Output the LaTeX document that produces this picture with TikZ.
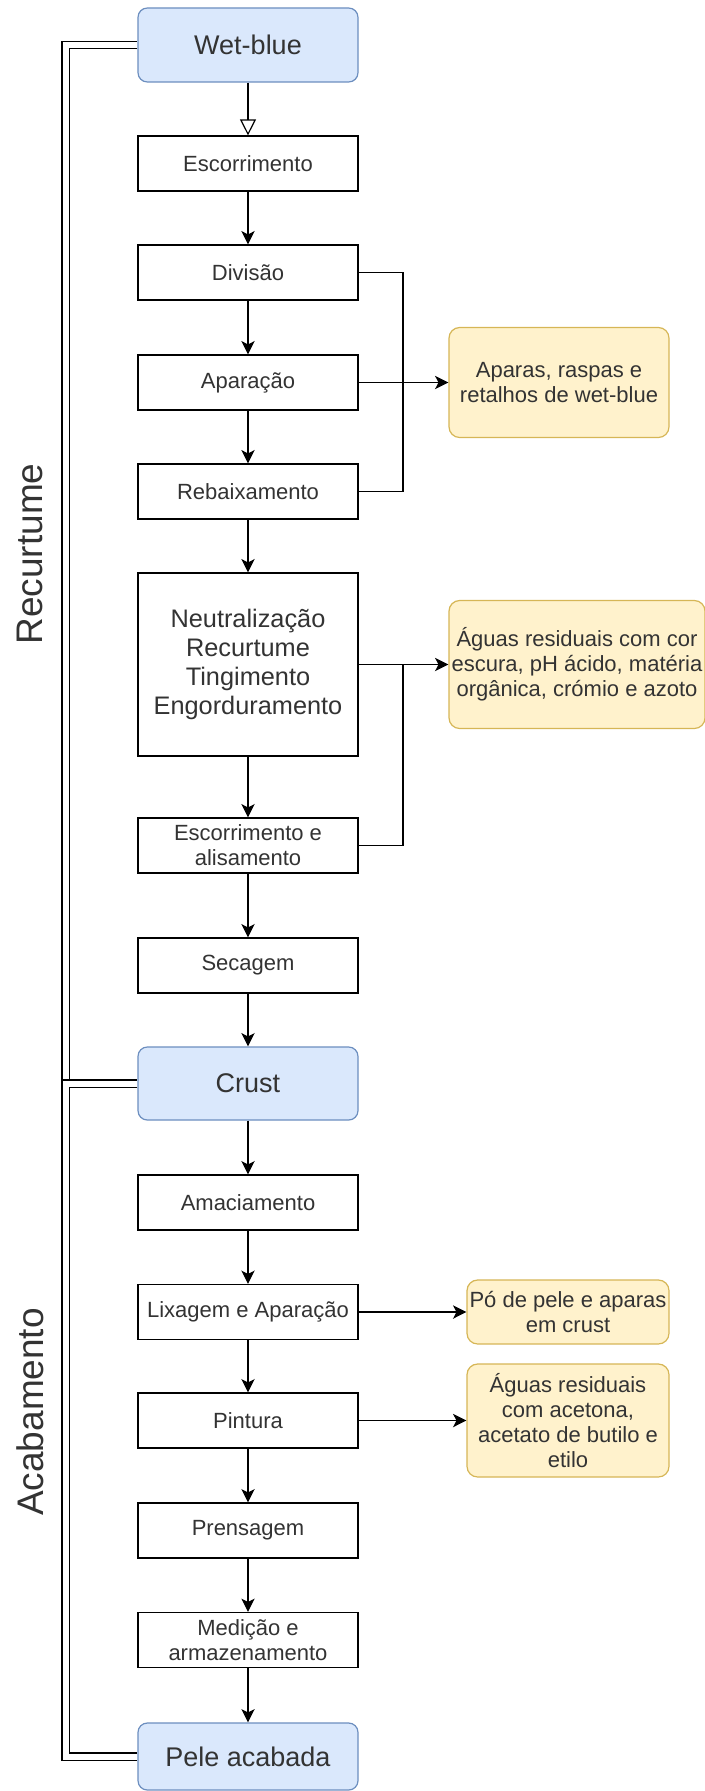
\documentclass[tikz,border=0pt]{standalone}
\usepackage{fontspec}
\setmainfont{Liberation Sans}
\usetikzlibrary{arrows.meta}
\definecolor{azulfundo}{HTML}{DAE8FC}
\definecolor{azulborda}{HTML}{6C8EBF}
\definecolor{amarfundo}{HTML}{FFF2CC}
\definecolor{amarborda}{HTML}{D6B656}

\begin{document}
\begin{tikzpicture}[x=0.75pt, y=-0.75pt,
	every node/.style={text=black!80, align=center, inner sep=0pt, font=\fontsize{16.5}{18.75}\selectfont},
	etapa/.style={draw=black, line width=0.9pt, fill=white, minimum width=165pt, minimum height=41.25pt},
	estado/.style={draw=azulborda, line width=0.9pt, fill=azulfundo, rounded corners=7pt, minimum width=165pt, font=\fontsize{20.25}{22}\selectfont},
	residuo/.style={draw=amarborda, line width=0.9pt, fill=amarfundo, rounded corners=8pt},
	fase/.style={rotate=90, font=\fontsize{27.75}{30}\selectfont},
	seta/.style={-{Stealth[length=10pt, width=10pt, inset=2.5pt]}, line width=0.9pt},
	ligacao/.style={double, double distance=4.5pt, line width=0.8pt}]
	\useasboundingbox (0,0) rectangle (705,1791);
	% fases
	\node[fase] (lblrec) at (30,554) {Recurtume};
	\node[fase] (lblacab) at (30,1412) {Acabamento};
	% estados da pele
	\node[estado, minimum height=55.5pt] (wet) at (248,45) {Wet-blue};
	\node[estado, minimum height=54.75pt] (crust) at (248,1083.5) {Crust};
	\node[estado, minimum height=50.25pt] (pele) at (248,1756.5) {Pele acabada};
	% etapas
	\node[etapa] (esc) at (248,163.5) {Escorrimento};
	\node[etapa] (div) at (248,272.5) {Divisão};
	\node[etapa] (apa) at (248,382.5) {Aparação};
	\node[etapa] (reb) at (248,491.5) {Rebaixamento};
	\node[etapa, minimum height=137.25pt, font=\fontsize{19}{21.75}\selectfont] (neu) at (248,664.5) {Neutralização\\Recurtume\\Tingimento\\Engorduramento};
	\node[etapa] (esa) at (248,845.5) {Escorrimento e\\alisamento};
	\node[etapa] (sec) at (248,965.5) {Secagem};
	\node[etapa] (ama) at (248,1202.5) {Amaciamento};
	\node[etapa] (lix) at (248,1312) {Lixagem e Aparação};
	\node[etapa] (pin) at (248,1420.5) {Pintura};
	\node[etapa] (pre) at (248,1530.5) {Prensagem};
	\node[etapa] (med) at (248,1640) {Medição e\\armazenamento};
	% residuos
	\node[residuo, minimum width=165pt, minimum height=82.5pt] (res1) at (559,382.5) {Aparas, raspas e\\retalhos de wet-blue};
	\node[residuo, minimum width=192pt, minimum height=96pt] (res2) at (577,664.5) {Águas residuais com cor\\escura, pH ácido, matéria\\orgânica, crómio e azoto};
	\node[residuo, minimum width=151.5pt, minimum height=48pt] (res3) at (568,1312) {Pó de pele e aparas\\em crust};
	\node[residuo, minimum width=151.5pt, minimum height=84.75pt] (res4) at (568,1420.5) {Águas residuais\\com acetona,\\acetato de butilo e\\etilo};
	\coordinate (j1) at (403,382.5);
	\coordinate (j2) at (403,664.5);

	\draw[ligacao] (wet.west) -| (65.5,1083.5) -- (crust.west);
	\draw[ligacao] (crust.west) -- (65.5,1083.5) |- (pele.west);

	\draw[line width=0.9pt, -{Triangle[open, length=12pt, width=12pt]}] (wet) -- (esc);
	\foreach \a/\b in {esc/div, div/apa, apa/reb, reb/neu, neu/esa, esa/sec, sec/crust, crust/ama, ama/lix, lix/pin, pin/pre, pre/med, med/pele}
		\draw[seta] (\a) -- (\b);

	\draw[line width=0.9pt] (div.east) -| (j1);
	\draw[line width=0.9pt] (reb.east) -| (j1);
	\draw[seta] (apa.east) -- (res1.west);
	\draw[line width=0.9pt] (esa.east) -| (j2);
	\draw[seta] (neu.east) -- (res2.west);
	\draw[seta] (lix.east) -- (res3.west);
	\draw[seta] (pin.east) -- (res4.west);
\end{tikzpicture}
\end{document}
